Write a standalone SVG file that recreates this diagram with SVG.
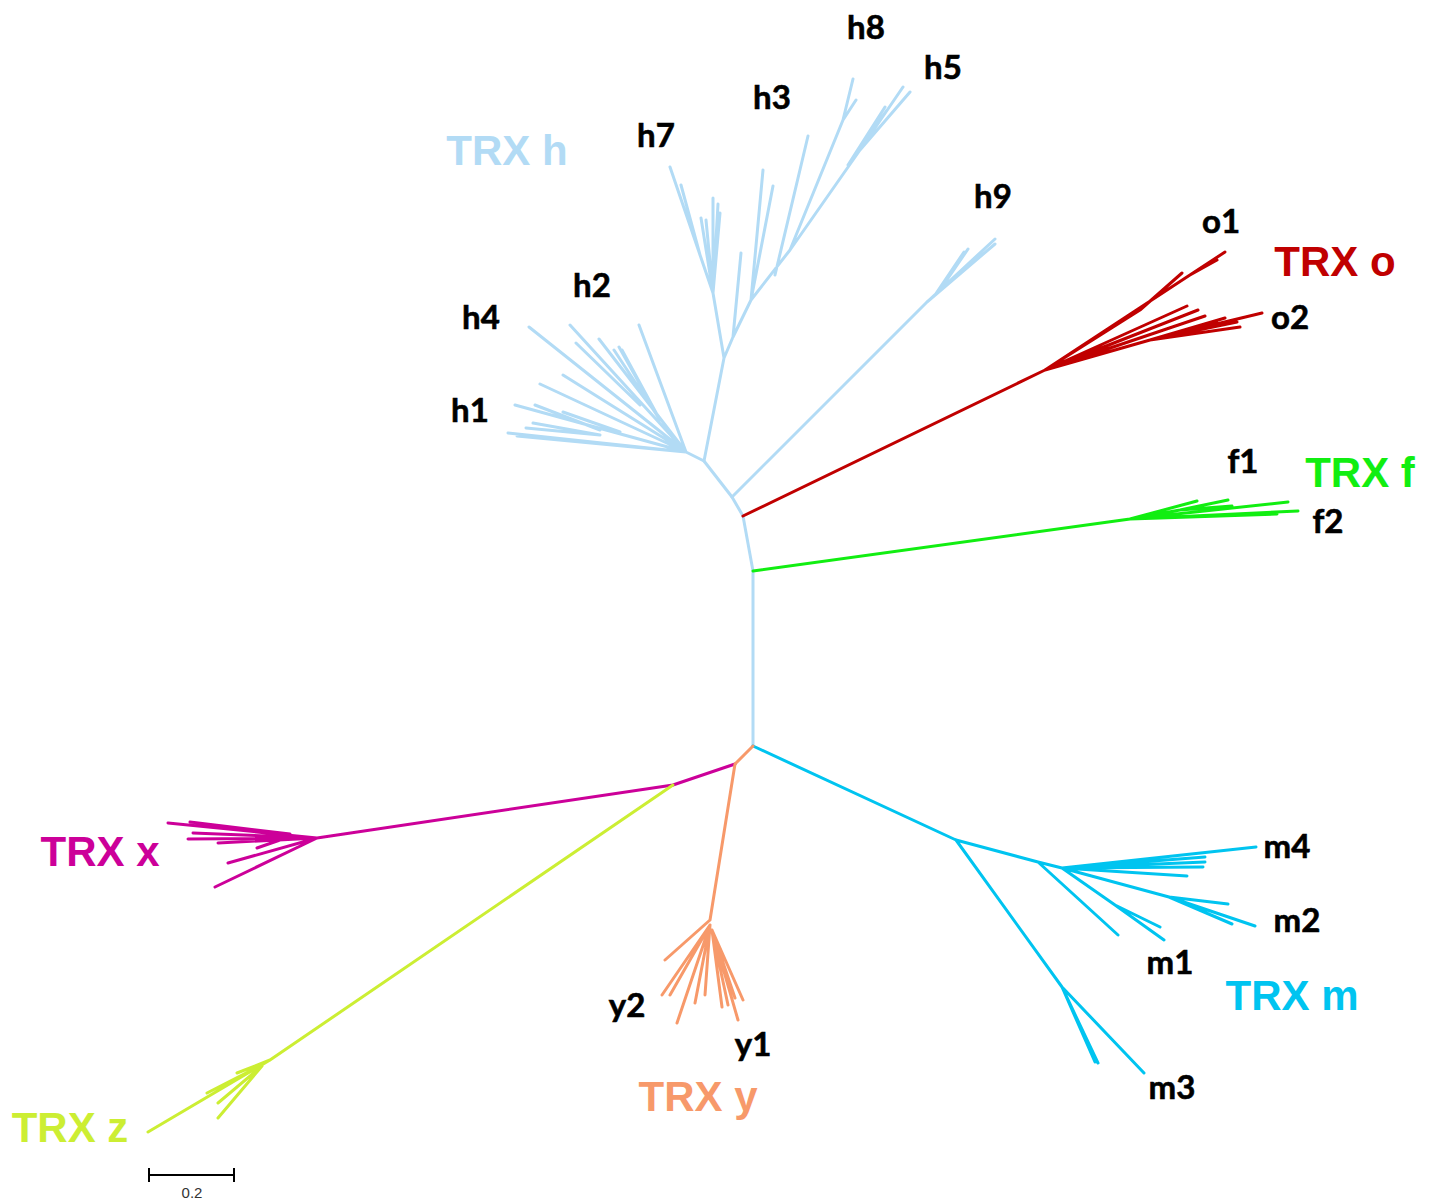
<svg xmlns="http://www.w3.org/2000/svg" width="1436" height="1201" viewBox="0 0 1436 1201">
<style>
.b{fill:none;stroke-width:3;stroke-linecap:round;stroke-linejoin:round}
.ch{stroke:#b2dbf5}.co{stroke:#c00000}.cf{stroke:#11ee11}.cm{stroke:#00c4f0}.cx{stroke:#cc0099}.cy{stroke:#f7996a}.cz{stroke:#ccee33}
.lab{font-family:Lato,"Open Sans",sans-serif;font-weight:bold;font-size:33px;fill:#000;stroke:#000;stroke-width:0.6;text-anchor:middle}
.trx{font-family:"Liberation Sans",Arial,sans-serif;font-weight:bold;font-size:42px;text-anchor:middle}
</style>
<rect width="1436" height="1201" fill="#fff"/>
<g id="connectors">
<path class="b ch" d="M753,746 L753,571 L743,516 L732,497 L704,461"/>
</g>
<g id="trx-h">
<path class="b ch" d="M704,461 L686,452 M704,461 L724,358
M724,358 L713,293 L670,167 M700,255 L681,185 M713,293 L701,218 M713,293 L706,220 M713,293 L713,198 M713,293 L718,204 M713,293 L720,213
M724,358 L733,337 L751,300 L790,250 M733,337 L741,253 M751,300 L763,170 M751,300 L773,186 M775,275 L808,136
M790,250 L843,120 L853,79 M843,120 L856,100 M790,250 L860,150 L903,87 M860,150 L910,92 M848,165 L885,107 M848,165 L887,110
M686,452 L529,327 M686,452 L570,325 M640,405 L576,343 M686,452 L599,339 M660,420 L614,350 M660,420 L619,347 M660,420 L622,350 M686,452 L639,325
M686,452 L540,384 M686,452 L563,375 M686,452 L515,405 M686,452 L508,433 M686,452 L517,436 M600,430 L535,405 M620,432 L563,412 M600,435 L526,428 M600,435 L533,423"/>
<text class="trx" x="507" y="165" fill="#b2dbf5">TRX h</text>
<text class="lab" x="866" y="39">h8</text>
<text class="lab" x="943" y="79">h5</text>
<text class="lab" x="772" y="109">h3</text>
<text class="lab" x="656" y="147">h7</text>
<text class="lab" x="592" y="297">h2</text>
<text class="lab" x="481" y="329">h4</text>
<text class="lab" x="470" y="422">h1</text>
</g>
<g id="trx-h9">
<path class="b ch" d="M732,497 L927,302 L995,239 M927,302 L995,244 M940,290 L968,249 M935,295 L964,252"/>
<text class="lab" x="993" y="208">h9</text>
</g>
<g id="trx-o">
<path class="b co" d="M743,516 L1045,370 M1045,370 L1225,252 M1045,370 L1140,310 L1182,273 M1190,275 L1217,260
M1045,370 L1187,306 M1045,370 L1198,310 M1045,370 L1205,316 M1045,370 L1150,340 L1262,313 M1150,340 L1240,327 M1150,340 L1237,322 M1150,340 L1217,323 M1150,340 L1225,318"/>
<text class="trx" x="1335" y="276" fill="#c00000">TRX o</text>
<text class="lab" x="1221" y="233">o1</text>
<text class="lab" x="1290" y="329">o2</text>
</g>
<g id="trx-f">
<path class="b cf" d="M753,571 L1130,519 M1130,519 L1197,501 M1130,519 L1180,510 L1228,500 M1180,510 L1232,506 M1130,519 L1288,502 M1130,519 L1298,511 M1130,519 L1277,514"/>
<text class="trx" x="1360" y="487" fill="#11ee11">TRX f</text>
<text class="lab" x="1243" y="473">f1</text>
<text class="lab" x="1328" y="533">f2</text>
</g>
<g id="trx-m">
<path class="b cm" d="M753,746 L956,840 L1038,862 L1062,868 M1062,868 L1256,847 M1062,868 L1205,857 M1062,868 L1205,862 M1062,868 L1203,867 M1062,868 L1187,876
M1062,868 L1169,897 L1255,926 M1169,897 L1228,904 M1169,897 L1232,924 M1038,862 L1118,935 M1062,868 L1115,905 L1164,940 M1115,905 L1160,927
M956,840 L1062,987 L1144,1073 M1062,987 L1095,1062 M1062,987 L1098,1063 M1062,987 L1092,1055"/>
<text class="trx" x="1292" y="1010" fill="#00c4f0">TRX m</text>
<text class="lab" x="1287" y="858">m4</text>
<text class="lab" x="1297" y="932">m2</text>
<text class="lab" x="1170" y="974">m1</text>
<text class="lab" x="1172" y="1099">m3</text>
</g>
<g id="trx-x">
<path class="b cx" d="M735,764 L673,785 L317,838 M317,838 L168,823 M290,834 L190,822 M317,838 L193,833 M317,838 L188,839 M317,838 L218,843 M280,840 L257,848 M317,838 L228,863 M317,838 L215,887"/>
<text class="trx" x="100" y="866" fill="#cc0099">TRX x</text>
</g>
<g id="trx-z">
<path class="b cz" d="M673,785 L270,1060 L148,1132 M270,1060 L237,1073 M262,1065 L207,1093 M262,1066 L218,1103 M262,1066 L218,1118"/>
<text class="trx" x="70" y="1142" fill="#ccee33">TRX z</text>
</g>
<g id="trx-y">
<path class="b cy" d="M753,746 L735,764 L710,920 M710,920 L665,960 M710,925 L662,995 M710,925 L670,995 M710,925 L677,1023 M710,925 L695,1003 M710,925 L705,995 M712,930 L722,1007 M712,930 L728,1005 M712,930 L738,1020 M712,930 L743,1000 M712,930 L735,998"/>
<text class="trx" x="698" y="1111" fill="#f7996a">TRX y</text>
<text class="lab" x="627" y="1017">y2</text>
<text class="lab" x="753" y="1056">y1</text>
</g>
<g id="scale">
<path d="M149,1175 L234,1175 M149,1168 L149,1182 M234,1168 L234,1182" stroke="#000" stroke-width="2" fill="none"/>
<text x="192" y="1198" font-family="Liberation Sans,Arial,sans-serif" font-size="15" fill="#333" text-anchor="middle">0.2</text>
</g>
</svg>
